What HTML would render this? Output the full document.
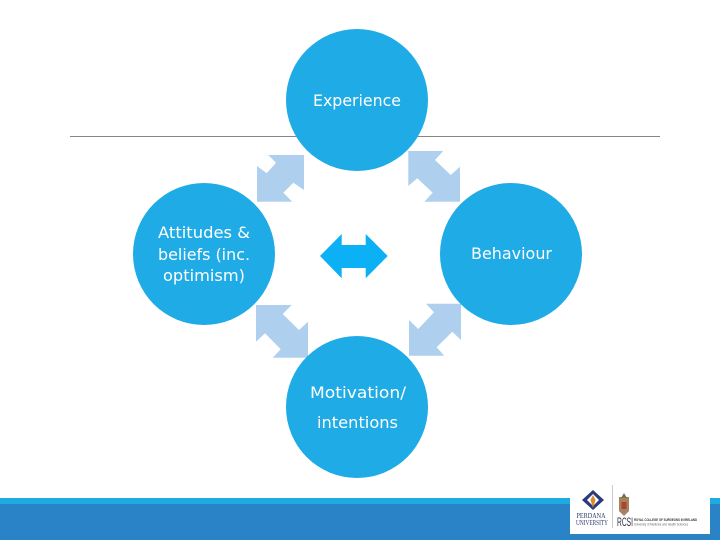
<!DOCTYPE html>
<html>
<head>
<meta charset="utf-8">
<style>
html,body{margin:0;padding:0;background:#fff;}
svg{display:block;}
text{font-family:"Liberation Sans",sans-serif;}
.t{font-family:"DejaVu Sans","Liberation Sans",sans-serif;font-size:16px;fill:#fff;text-anchor:start;}
.s{font-family:"Liberation Serif",serif;}
</style>
</head>
<body>
<svg width="720" height="540" viewBox="0 0 720 540" xmlns="http://www.w3.org/2000/svg">
<rect width="720" height="540" fill="#fff"/>
<rect x="70" y="136" width="590" height="1" fill="#868686"/>
<rect x="0" y="498" width="720" height="6" fill="#1eaae2"/>
<rect x="0" y="504" width="720" height="36" fill="#2a83c6"/>

<g fill="#aed0ee">
<polygon points="304,155 268.3,155 276,162.7 266.7,173.3 257,166 257,201.7 292.3,201.7 283.3,192.7 293.3,182.7 304,190"/>
<polygon points="408.3,151 443.3,151 435,160 450.7,175 460,166.7 460,201.7 424.3,201.7 432.7,192.7 417.3,178.3 408.3,186"/>
<polygon points="256,305 291.7,305 282.7,314 299,330 308,321.7 308,357.7 272.7,357.7 280.7,349.3 265,333.3 256,341.7"/>
<polygon points="461,303.7 426,303.7 434,312.3 418.3,329 409,320 409,355.7 444.3,355.7 436.7,347.3 452.3,331.7 461,340"/>
</g>
<polygon fill="#0cb0f5" points="320,256 341.7,234 341.7,245 365.7,245 365.7,234 387.7,256 365.7,278.3 365.7,268 341.7,268 341.7,278.3"/>

<g fill="#1fabe5">
<circle cx="357" cy="100" r="71"/>
<circle cx="204" cy="254" r="71"/>
<circle cx="511" cy="254" r="71"/>
<circle cx="357" cy="407" r="71"/>
</g>

<text class="t" x="313" y="106" textLength="88" lengthAdjust="spacingAndGlyphs">Experience</text>
<text class="t" x="158" y="238" textLength="92" lengthAdjust="spacingAndGlyphs">Attitudes &amp;</text>
<text class="t" x="158" y="260" textLength="92" lengthAdjust="spacingAndGlyphs">beliefs (inc.</text>
<text class="t" x="163" y="281" textLength="82" lengthAdjust="spacingAndGlyphs">optimism)</text>
<text class="t" x="471" y="259" textLength="81" lengthAdjust="spacingAndGlyphs">Behaviour</text>
<text class="t" x="310" y="398" textLength="96" lengthAdjust="spacingAndGlyphs">Motivation/</text>
<text class="t" x="317" y="428" textLength="81" lengthAdjust="spacingAndGlyphs">intentions</text>

<!-- logo -->
<rect x="570" y="487" width="140" height="47" fill="#fff"/>
<g>
<polygon points="593,490 604,500 593,510 582,500" fill="#2c3a7c"/>
<polygon points="593,494 599,500 593,506 587,500" fill="#fff"/>
<polygon points="593,495 595.5,500 593,508 590.5,500" fill="#d98a2b"/>
<text class="s" x="576.500" y="518" font-size="7.500" fill="#2c3a6c" textLength="29" lengthAdjust="spacingAndGlyphs">PERDANA</text>
<text class="s" x="576" y="525" font-size="7.500" fill="#2c3a6c" textLength="32" lengthAdjust="spacingAndGlyphs">UNIVERSITY</text>
<rect x="612" y="485" width="0.700" height="43" fill="#b5b5b5"/>
<polygon points="619,497 629,497 629,511 624,516 619,511" fill="#a08560"/>
<rect x="621.500" y="502" width="5" height="7" fill="#b5402f"/>
<polygon points="624,493 627,498 621,498" fill="#8a6a48"/>
<text x="617" y="526" font-size="11.500" fill="#2a2a3a" textLength="16" lengthAdjust="spacingAndGlyphs">RCSI</text>
<text x="634" y="521" font-size="4" font-weight="bold" fill="#333" textLength="63" lengthAdjust="spacingAndGlyphs">ROYAL COLLEGE OF SURGEONS IN IRELAND</text>
<text x="634" y="525.500" font-size="3.600" fill="#666" textLength="54" lengthAdjust="spacingAndGlyphs">University of Medicine and Health Sciences</text>
</g>
</svg>
</body>
</html>
